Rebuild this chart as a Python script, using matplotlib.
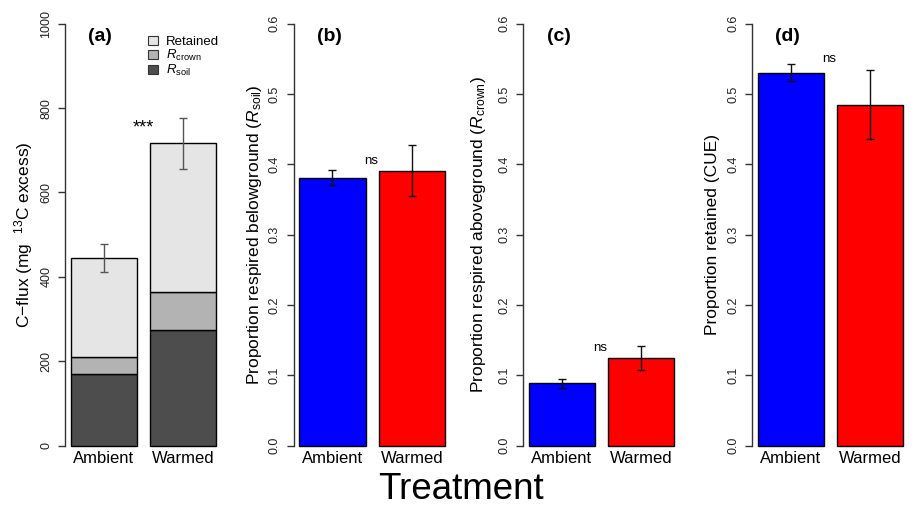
import matplotlib
matplotlib.use("Agg")
import matplotlib.pyplot as plt
from matplotlib.patches import Patch

plt.rcParams['font.family'] = ['Liberation Sans', 'DejaVu Sans']
plt.rcParams['mathtext.fontset'] = 'custom'
plt.rcParams['mathtext.rm'] = 'Liberation Sans'
plt.rcParams['mathtext.it'] = 'Liberation Sans:italic'
plt.rcParams['mathtext.bf'] = 'Liberation Sans:bold'

# ---------------- data ----------------
categories = ['Ambient', 'Warmed']
# panel (a): C-flux (mg 13C excess), stacked
flux_rsoil = [169, 275]
flux_rcrown = [40.5, 88.5]
flux_retained = [236, 353]
flux_total_se = [33, 61]
# panel (b): proportion respired belowground
prop_soil = [0.381, 0.391]
prop_soil_se = [0.011, 0.036]
# panel (c): proportion respired aboveground
prop_crown = [0.089, 0.125]
prop_crown_se = [0.0065, 0.017]
# panel (d): proportion retained (CUE)
prop_cue = [0.530, 0.485]
prop_cue_se = [0.012, 0.049]

a_ticks = [0, 200, 400, 600, 800, 1000]
p_ticks = [0.0, 0.1, 0.2, 0.3, 0.4, 0.5, 0.6]

# ---------------- layout ----------------
W, H = 915, 507
fig = plt.figure(figsize=(W / 100, H / 100), dpi=100)

bottom_px = 462.6
height_px = 455.8
axes_left_px = [64.9, 293.5, 522.7, 751.7]
axes_w_px = 157.3

x_pos = [0.7, 1.9]
bar_w = 1.0
axis_col = '#333333'


def make_ax(i):
    ax = fig.add_axes([axes_left_px[i] / W, (H - bottom_px) / H,
                       axes_w_px / W, height_px / H])
    ax.set_xlim(0.112, 2.488)
    for s in ['top', 'right', 'bottom']:
        ax.spines[s].set_visible(False)
    ax.spines['left'].set_color(axis_col)
    ax.spines['left'].set_linewidth(1.0)
    ax.set_xticks([])
    ax.tick_params(axis='y', length=5, width=1.0, color=axis_col,
                   labelsize=9, pad=4, labelcolor='#222222')
    for x, lab in zip(x_pos, categories):
        ax.text(x, 0.009, lab, transform=ax.get_xaxis_transform(),
                ha='center', va='center', fontsize=12)
    return ax


def yfmt(ax, ticks, labels, ymax):
    ax.set_ylim(-0.04 * ymax, 1.04 * ymax)
    ax.spines['left'].set_bounds(0, ymax)
    ax.set_yticks(ticks)
    ax.set_yticklabels(labels, rotation=90, va='center')


# ---------------- panel (a) ----------------
ax = make_ax(0)
yfmt(ax, a_ticks, [str(t) for t in a_ticks], 1000)
c_soil, c_crown, c_ret = '#4d4d4d', '#b3b3b3', '#e5e5e5'
ax.bar(x_pos, flux_rsoil, bar_w, color=c_soil, edgecolor='black', linewidth=1)
ax.bar(x_pos, flux_rcrown, bar_w, bottom=flux_rsoil, color=c_crown,
       edgecolor='black', linewidth=1)
bott = [a + b for a, b in zip(flux_rsoil, flux_rcrown)]
ax.bar(x_pos, flux_retained, bar_w, bottom=bott, color=c_ret,
       edgecolor='black', linewidth=1)
tot = [a + b for a, b in zip(bott, flux_retained)]
ax.errorbar(x_pos, tot, yerr=flux_total_se, fmt='none', ecolor='#555555',
            elinewidth=1, capsize=3, capthick=1)
ax.text(1.3, 752, '***', ha='center', va='center', fontsize=13)
ax.text(0.225, 0.934, '(a)', transform=ax.transAxes, ha='center', va='center',
        fontsize=14, fontweight='bold')
handles = [Patch(facecolor=c_ret, edgecolor='#333333', linewidth=0.8),
           Patch(facecolor=c_crown, edgecolor='#333333', linewidth=0.8),
           Patch(facecolor=c_soil, edgecolor='#333333', linewidth=0.8)]
ax.legend(handles, ['Retained', r'$R_{\mathrm{crown}}$', r'$R_{\mathrm{soil}}$'],
          loc='upper left', bbox_to_anchor=(0.47, 0.957), frameon=False,
          fontsize=9.5, handlelength=0.75, handleheight=0.75, handletextpad=0.6,
          labelspacing=0.0, borderpad=0.2)
fig.text(24 / W, 1 - 234.7 / H, u'C\u2212flux (mg  $^{13}$C excess)', rotation=90,
         ha='center', va='center', fontsize=12.5)

# ---------------- panels (b)-(d) ----------------
panels = [
    (prop_soil, prop_soil_se, '(b)',
     r'Proportion respired belowground ($R_{\mathrm{soil}}$)', 255, (1.28, 0.405)),
    (prop_crown, prop_crown_se, '(c)',
     r'Proportion respired aboveground ($R_{\mathrm{crown}}$)', 478, (1.28, 0.139)),
    (prop_cue, prop_cue_se, '(d)',
     'Proportion retained (CUE)', 712, (1.28, 0.550)),
]
for i, (vals, se, tag, ylab, lx, nspos) in enumerate(panels, start=1):
    ax = make_ax(i)
    yfmt(ax, p_ticks, ['%.1f' % t for t in p_ticks], 0.6)
    ax.bar(x_pos, vals, bar_w, color=['#0000ff', '#ff0000'],
           edgecolor='black', linewidth=1)
    ax.errorbar(x_pos, vals, yerr=se, fmt='none', ecolor='#111111',
                elinewidth=1, capsize=3, capthick=1)
    ax.text(nspos[0], nspos[1], 'ns', ha='center', va='center', fontsize=9.5)
    ax.text(0.23, 0.934, tag, transform=ax.transAxes, ha='center', va='center',
            fontsize=14, fontweight='bold')
    fig.text(lx / W, 1 - 234.7 / H, ylab, rotation=90, ha='center', va='center',
             fontsize=12.5)

fig.text(461 / W, 1 - 499 / H, 'Treatment', ha='center', va='baseline',
         fontsize=26.5)

fig.savefig('out.png', dpi=100)
